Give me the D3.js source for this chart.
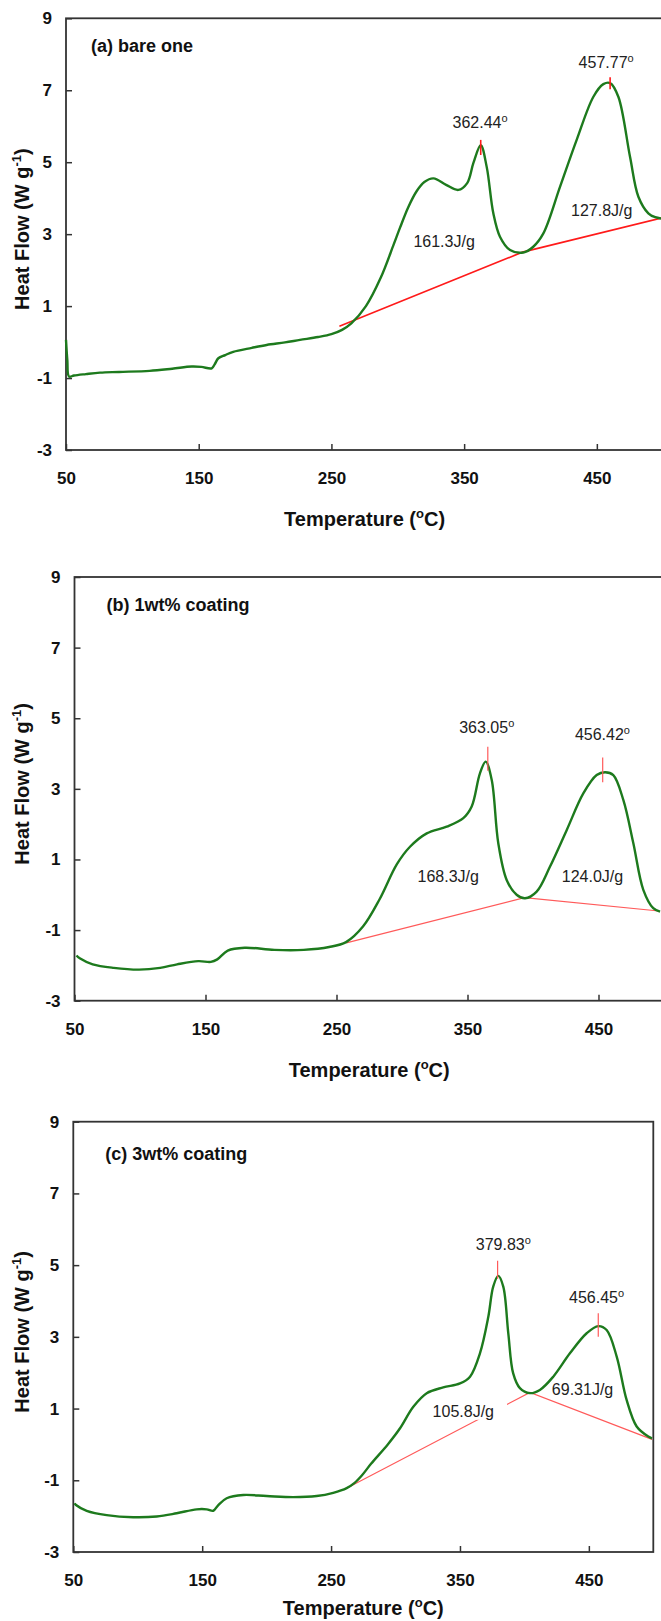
<!DOCTYPE html>
<html>
<head>
<meta charset="utf-8">
<script src="https://cdn.jsdelivr.net/npm/d3@7"></script>
<style>
  body { margin: 0; background: #fff; }
  svg { display: block; font-family: "Liberation Sans", Arial, sans-serif; }
</style>
</head>
<body>
<div id="chart"></div>
<script>
// axis ticks shared by all three DSC panels
const xTicks = [50, 150, 250, 350, 450];
const yTicks = [9, 7, 5, 3, 1, -1, -3];
const panelLabels = ["(a) bare one", "(b) 1wt% coating", "(c) 3wt% coating"];

// (a) bare one
const tempA = [50, 51, 52.3, 56, 65, 75.6, 90, 113, 130, 144.7, 152, 159.8, 162, 164.8, 170, 176, 190, 201.2, 215, 226.3, 240, 250, 258, 265, 276, 287.3, 296.8, 301.7, 307.9, 314.3, 320, 326.9, 336.4, 345.6, 352.3, 357, 362.5, 367, 372, 377, 384.6, 394.6, 402.1, 409.7, 422.3, 434.8, 447.4, 454.9, 460, 466.2, 475, 481.3, 488.8, 494, 500];
const flowA = [0.06, -0.5, -0.96, -0.93, -0.89, -0.85, -0.83, -0.80, -0.74, -0.68, -0.69, -0.73, -0.62, -0.45, -0.36, -0.27, -0.16, -0.08, -0.01, 0.06, 0.14, 0.22, 0.34, 0.52, 1.0, 1.8, 2.7, 3.18, 3.75, 4.2, 4.45, 4.55, 4.37, 4.23, 4.42, 4.98, 5.47, 4.87, 3.58, 2.93, 2.56, 2.49, 2.65, 3.02, 4.32, 5.62, 6.82, 7.17, 7.2, 6.82, 5.15, 4.04, 3.58, 3.47, 3.43];
const baseTempA = [256, 394, 500];
const baseFlowA = [0.44, 2.5, 3.46];
const peakTempA = [362.5, 460];
const peakLowA = [5.2, 7.03];
const peakHighA = [5.62, 7.36];
const noteTextA = ["362.44", "457.77", "161.3J/g", "127.8J/g"];
const noteDegA = [true, true, false, false];
const noteTempA = [362, 457, 334.9, 453.7];
const noteFlowA = [5.94, 7.61, 2.65, 3.5];

// (b) 1wt% coating
const tempB = [51.5, 54, 63.9, 80, 99.3, 115.4, 128.3, 144.5, 154.1, 159, 167, 179.9, 202.5, 225, 244.4, 257.3, 270.2, 283, 296, 306.1, 318.9, 334.1, 346.8, 353.2, 359.5, 363.9, 368.5, 373.5, 379.9, 387.5, 393.9, 402.8, 413, 425.7, 438.4, 448.6, 455, 461.3, 469, 476.6, 484.2, 491.8, 497];
const flowB = [-1.72, -1.8, -1.97, -2.07, -2.12, -2.07, -1.97, -1.88, -1.9, -1.83, -1.58, -1.5, -1.56, -1.56, -1.48, -1.34, -0.9, -0.12, 0.86, 1.36, 1.74, 1.93, 2.17, 2.5, 3.44, 3.77, 3.25, 1.46, 0.42, 0.0, -0.1, 0.09, 0.8, 1.83, 2.87, 3.39, 3.47, 3.39, 2.68, 1.46, 0.14, -0.38, -0.48];
const baseTempB = [257.5, 393.5, 496];
const baseFlowB = [-1.36, -0.08, -0.46];
const peakTempB = [365.5, 453.2];
const peakLowB = [3.51, 3.19];
const peakHighB = [4.19, 3.89];
const noteTextB = ["363.05", "456.42", "168.3J/g", "124.0J/g"];
const noteDegB = [true, true, false, false];
const noteTempB = [364.7, 453, 335.3, 445.4];
const noteFlowB = [4.57, 4.38, 0.37, 0.37];

// (c) 3wt% coating
const tempC = [51, 52.1, 60.4, 75.9, 96.5, 114.7, 130.2, 145.7, 153.5, 158.6, 162.5, 169, 181.9, 200, 220.7, 238.8, 251.7, 262.1, 268, 274, 281, 294, 303.5, 313.8, 324.2, 337, 350, 357.8, 365.5, 372, 375.8, 379.7, 383.6, 387.5, 391.3, 396.5, 404.3, 412, 422.4, 435.3, 448.3, 457.3, 463.8, 471.6, 479.3, 487.1, 496.1, 499];
const flowC = [-1.64, -1.69, -1.85, -1.97, -2.03, -2.01, -1.92, -1.81, -1.81, -1.85, -1.69, -1.50, -1.41, -1.44, -1.47, -1.44, -1.35, -1.22, -1.08, -0.86, -0.54, 0.0, 0.45, 1.05, 1.43, 1.59, 1.7, 1.89, 2.54, 3.56, 4.4, 4.70, 4.4, 3.1, 1.98, 1.57, 1.43, 1.52, 1.89, 2.54, 3.1, 3.30, 3.19, 2.45, 1.24, 0.5, 0.22, 0.17];
const baseTempC = [262, 404.3, 499];
const baseFlowC = [-1.22, 1.45, 0.14];
const peakTempC = [379.2, 457.3];
const peakLowC = [4.62, 3.0];
const peakHighC = [5.12, 3.66];
const noteTextC = ["379.83", "456.45", "105.8J/g", "69.31J/g"];
const noteDegC = [true, true, false, false];
const noteTempC = [383.6, 456, 352.6, 445.1];
const noteFlowC = [5.42, 3.94, 0.77, 1.38];

// page geometry of each panel (pixels)
const layout = [
  { left: 66,   right: 663.2, top: 18.3,   bottom: 450,  titleY: 526,  labelDx: 25, labelDy: 34, red: "#ff1a1a", redW: 1.6, boxNote: -1 },
  { left: 74.5, right: 664,   top: 577,    bottom: 1000.7, titleY: 1077, labelDx: 32, labelDy: 34, red: "#ff5a5a", redW: 1.2, boxNote: -1 },
  { left: 73.3, right: 653.3, top: 1121.7, bottom: 1552, titleY: 1615, labelDx: 32, labelDy: 38, red: "#ff5a5a", redW: 1.2, boxNote: 2 }
];

const series = [
  { temp: tempA, flow: flowA, bt: baseTempA, bf: baseFlowA, pt: peakTempA, pl: peakLowA, ph: peakHighA, nt: noteTextA, nd: noteDegA, nx: noteTempA, ny: noteFlowA },
  { temp: tempB, flow: flowB, bt: baseTempB, bf: baseFlowB, pt: peakTempB, pl: peakLowB, ph: peakHighB, nt: noteTextB, nd: noteDegB, nx: noteTempB, ny: noteFlowB },
  { temp: tempC, flow: flowC, bt: baseTempC, bf: baseFlowC, pt: peakTempC, pl: peakLowC, ph: peakHighC, nt: noteTextC, nd: noteDegC, nx: noteTempC, ny: noteFlowC }
];

const svg = d3.select("#chart").append("svg")
  .attr("width", 661)
  .attr("height", 1621);

function styleAxis(sel) {
  sel.select(".domain").remove();
  sel.selectAll(".tick line").attr("stroke", "#333").attr("stroke-width", 1.5);
  sel.selectAll(".tick text")
    .attr("fill", "#111")
    .style("font-size", "17px")
    .style("font-weight", "bold")
    .style("font-family", "'Liberation Sans', Arial, sans-serif");
}

// plain hyphen for negatives, like the original plot
const plainNum = function(d) { return String(d); };

function drawPanel(i) {
  const p = layout[i];
  const s = series[i];

  const x = d3.scaleLinear().domain([50, 500]).range([p.left, p.right]);
  const y = d3.scaleLinear().domain([-3, 9]).range([p.bottom, p.top]);
  const g = svg.append("g");

  g.append("rect")
    .attr("x", p.left).attr("y", p.top)
    .attr("width", p.right - p.left).attr("height", p.bottom - p.top)
    .attr("fill", "none").attr("stroke", "#333").attr("stroke-width", 1.8);

  g.append("g")
    .attr("transform", "translate(0," + p.bottom + ")")
    .call(d3.axisBottom(x).tickValues(xTicks).tickSize(-6).tickPadding(22).tickFormat(plainNum))
    .call(styleAxis);

  g.append("g")
    .attr("transform", "translate(" + p.left + ",0)")
    .call(d3.axisLeft(y).tickValues(yTicks).tickSize(-6).tickPadding(14).tickFormat(plainNum))
    .call(styleAxis);

  // baseline integration lines
  const baseData = s.bt.map(function(t, k) { return [t, s.bf[k]]; });
  g.append("path")
    .datum(baseData)
    .attr("d", d3.line().x(function(d) { return x(d[0]); }).y(function(d) { return y(d[1]); }))
    .attr("fill", "none").attr("stroke", p.red).attr("stroke-width", p.redW);

  // DSC curve
  const curveData = s.temp.map(function(t, k) { return [t, s.flow[k]]; });
  g.append("path")
    .datum(curveData)
    .attr("d", d3.line().curve(d3.curveCatmullRom.alpha(0.5)).x(function(d) { return x(d[0]); }).y(function(d) { return y(d[1]); }))
    .attr("fill", "none").attr("stroke", "#1d7a1d").attr("stroke-width", 2.4)
    .attr("stroke-linejoin", "round");

  // peak markers
  g.selectAll(".peak")
    .data(s.pt)
    .enter().append("line")
    .attr("x1", function(d) { return x(d); })
    .attr("x2", function(d) { return x(d); })
    .attr("y1", function(d, k) { return y(s.pl[k]); })
    .attr("y2", function(d, k) { return y(s.ph[k]); })
    .attr("stroke", p.red).attr("stroke-width", p.redW);

  // annotations
  s.nt.forEach(function(txt, k) {
    const t = g.append("text")
      .attr("x", x(s.nx[k]))
      .attr("y", y(s.ny[k]))
      .attr("text-anchor", "middle")
      .attr("fill", "#222")
      .style("font-size", "16px");
    t.append("tspan").text(txt);
    if (s.nd[k]) {
      t.append("tspan").attr("dy", "-6").style("font-size", "11px").text("o");
    }
    if (k === p.boxNote) {
      const bb = t.node().getBBox();
      g.insert("rect", function() { return t.node(); })
        .attr("x", bb.x - 3).attr("y", bb.y + 1)
        .attr("width", bb.width + 16).attr("height", bb.height - 1)
        .attr("fill", "#fff");
    }
  });

  // panel label
  g.append("text")
    .attr("x", p.left + p.labelDx)
    .attr("y", p.top + p.labelDy)
    .attr("fill", "#111")
    .style("font-size", "18px")
    .style("font-weight", "bold")
    .text(panelLabels[i]);

  // y axis title
  const cy = (p.top + p.bottom) / 2 - 5;
  const yt = g.append("text")
    .attr("transform", "translate(22," + cy + ") rotate(-90)")
    .attr("text-anchor", "middle")
    .attr("dy", "0.35em")
    .attr("fill", "#111")
    .style("font-size", "20px")
    .style("font-weight", "bold");
  yt.append("tspan").text("Heat Flow (W g");
  yt.append("tspan").attr("dy", "-8").style("font-size", "13px").text("-1");
  yt.append("tspan").attr("dy", "8").text(")");

  // x axis title
  const xt = g.append("text")
    .attr("x", (p.left + p.right) / 2)
    .attr("y", p.titleY)
    .attr("text-anchor", "middle")
    .attr("fill", "#111")
    .style("font-size", "20px")
    .style("font-weight", "bold");
  xt.append("tspan").text("Temperature (");
  xt.append("tspan").attr("dy", "-8").style("font-size", "13px").text("o");
  xt.append("tspan").attr("dy", "8").text("C)");
}

for (let i = 0; i < 3; i++) {
  drawPanel(i);
}
</script>
</body>
</html>
